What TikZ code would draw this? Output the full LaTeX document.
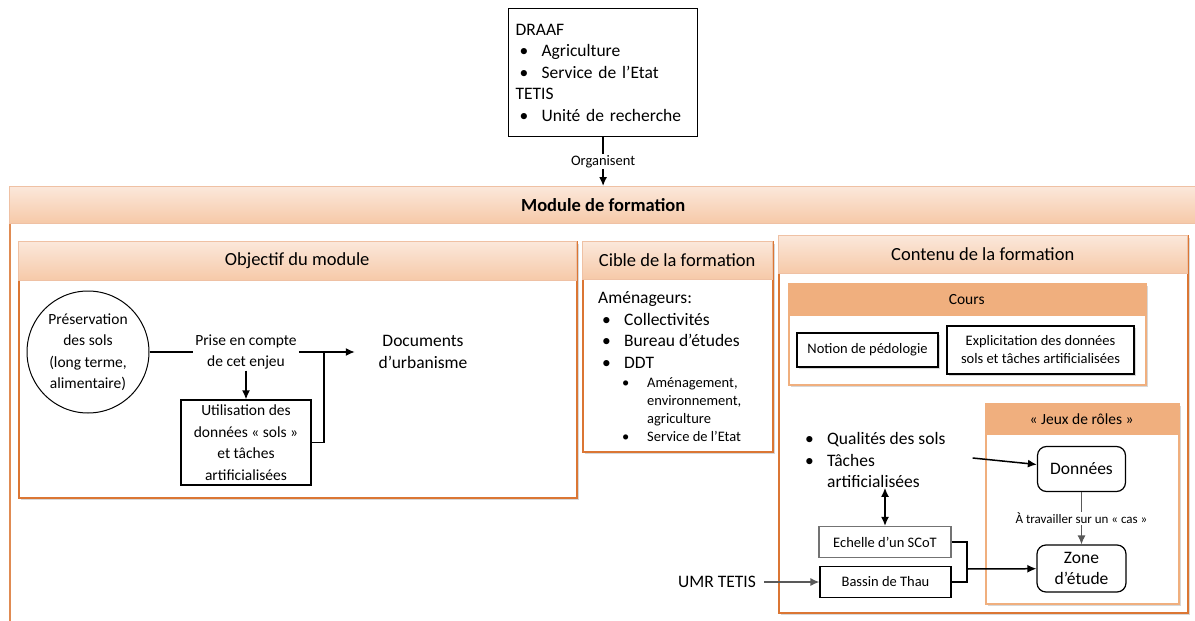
\documentclass[tikz,border=0pt]{standalone}
\usepackage{fontspec}
\setmainfont{Carlito}
\usepackage{tikz}
\usetikzlibrary{shapes, arrows.meta, positioning, shadows}
\definecolor{orangeline}{HTML}{DB7634}
\definecolor{hdtop}{HTML}{FBE8DB}
\definecolor{hdbot}{HTML}{F6C9A8}
\definecolor{hddark}{HTML}{F0AF7E}
\definecolor{linegrey}{HTML}{595959}
\newcommand{\grand}{\fontsize{17.5}{21.5}\selectfont}
\newcommand{\titre}{\fontsize{18.5}{22}\selectfont}
\newcommand{\moyen}{\fontsize{15.5}{21.5}\selectfont}
\newcommand{\petit}{\fontsize{14.5}{18}\selectfont}
\newcommand{\mini}{\fontsize{13}{16}\selectfont}
\newcommand{\puce}{\hspace*{4pt}\makebox[22pt][l]{\textbullet}}
\tikzstyle{panel} = [draw=orangeline, line width=1.6pt, fill=white, anchor=north west, inner sep=0pt, drop shadow={shadow xshift=2.5pt, shadow yshift=-2.5pt, fill=black!30, opacity=0.5}]
\tikzstyle{header} = [draw=orangeline!45, top color=hdtop, bottom color=hdbot, anchor=north west, inner sep=0pt]
\tikzstyle{subheader} = [fill=hddark, anchor=north west, inner sep=0pt]
\tikzstyle{blackbox} = [draw, line width=1.2pt, fill=white, align=center, inner sep=0pt]
\tikzstyle{roundbox} = [blackbox, rounded corners=9pt]
\tikzstyle{trait} = [line width=1.5pt]
\tikzstyle{link} = [line width=1.5pt, -{Latex[length=9pt, width=8pt]}]
\tikzstyle{dlink} = [line width=1.5pt, {Latex[length=9pt, width=8pt]}-{Latex[length=9pt, width=8pt]}]
\tikzstyle{greylink} = [line width=1.3pt, draw=linegrey, -{Latex[length=9pt, width=8pt]}]

\begin{document}
\begin{tikzpicture}[x=1pt, y=-1pt]
	\useasboundingbox (0,0) rectangle (1195,621);
	\clip (0,0) rectangle (1195,621);
	\node [blackbox, align=left, text width=175pt, inner xsep=7pt, minimum height=128pt, anchor=north west, font=\grand] (draaf) at (508,8) {DRAAF\\ \puce Agriculture\\ \puce Service de l'Etat\\ TETIS\\ \puce Unité de recherche};
	
	\node [panel, draw=orangeline!85, minimum width=1188pt, minimum height=460pt] (module) at (9,186) {};
	\node [header, minimum width=1188pt, minimum height=37pt, font=\titre\bfseries] (modhead) at (module.north west) {Module de formation};
	\draw [link] (draaf) -- node [fill=white, font=\petit, inner sep=1pt] {Organisent} (draaf.south |- module.north);
	
	% objectif
	\node [panel, minimum width=558pt, minimum height=256pt] (obj) at (18,241) {};
	\node [header, minimum width=558pt, minimum height=39pt, font=\titre] (objh) at (obj.north west) {Objectif du module};
	\node [circle, draw, line width=1pt, minimum size=122pt, inner sep=0pt, align=center, font=\moyen] (pres) at (88,352) {Préservation\\des sols\\(long terme,\\alimentaire)};
	\node [font=\moyen, align=center, inner xsep=2pt, inner ysep=1pt] (prise) at (246,352) {Prise en compte\\de cet enjeu};
	\node [font=\grand, align=center, minimum width=136pt] (docs) at (423,352) {Documents\\d'urbanisme};
	\node [blackbox, font=\moyen, minimum width=130pt, minimum height=85pt] (util) at (246,442.5) {Utilisation des\\données « sols »\\et tâches\\artificialisées};
	\coordinate (jonction) at (324,352);
	\draw [trait] (pres) -- (prise);
	\draw [link] (prise) -- (docs);
	\draw [link] (prise) -- (util);
	\draw [trait] (util) -| (jonction);
	
	% cible
	\node [panel, minimum width=190pt, minimum height=210pt] (cible) at (582,241) {};
	\node [header, minimum width=190pt, minimum height=38pt, font=\titre] (cibleh) at (cible.north west) {Cible de la formation};
	\node [font=\grand, align=left, anchor=west, inner sep=0pt] (amen) at (598,330) {Aménageurs:\\ \puce Collectivités\\ \puce Bureau d'études\\ \puce DDT};
	\node [font=\petit, align=left, anchor=west, inner sep=0pt] (ddt) at (622,409.5) {\makebox[25pt][l]{\textbullet}Aménagement,\\ \hspace*{25pt}environnement,\\ \hspace*{25pt}agriculture\\ \makebox[25pt][l]{\textbullet}Service de l'Etat};
	
	% contenu
	\node [panel, minimum width=409pt, minimum height=377pt] (contenu) at (778,235) {};
	\node [header, minimum width=409pt, minimum height=38pt, font=\titre] (contenuh) at (contenu.north west) {Contenu de la formation};
	\node [panel, draw=hddark, minimum width=357pt, minimum height=101pt] (cours) at (788,283) {};
	\node [subheader, minimum width=357pt, minimum height=33pt, font=\moyen] (coursh) at (cours.north west) {Cours};
	\node [blackbox, font=\petit, minimum width=141pt, minimum height=34pt, drop shadow={shadow xshift=2pt, shadow yshift=-2pt, fill=black!30, opacity=0.5}] (notion) at (867.5,350) {Notion de pédologie};
	\node [blackbox, font=\petit, minimum width=187pt, minimum height=48pt, drop shadow={shadow xshift=2pt, shadow yshift=-2pt, fill=black!30, opacity=0.5}] (explic) at (1040.5,350) {Explicitation des données\\sols et tâches artificialisées};
	\node [font=\grand, align=left, anchor=west, inner sep=0pt] (qualites) at (805,460) {\makebox[22pt][l]{\textbullet}Qualités des sols\\ \makebox[22pt][l]{\textbullet}Tâches\\ \hspace*{22pt}artificialisées};
	
	\node [panel, draw=hddark, minimum width=193pt, minimum height=200pt] (jeux) at (985,403) {};
	\node [subheader, minimum width=193pt, minimum height=32pt, font=\moyen] (jeuxh) at (jeux.north west) {« Jeux de rôles »};
	\node [roundbox, font=\grand, minimum width=88pt, minimum height=45pt] (donnees) at (1081.5,469) {Données};
	\node [roundbox, font=\grand, minimum width=89pt, minimum height=47pt] (zone) at (1081.5,568.5) {Zone\\d'étude};
	\draw [greylink] (donnees) -- node [fill=white, font=\mini, inner sep=1pt] {À travailler sur un « cas »} (zone);
	\draw [link] ([xshift=27pt, yshift=2pt]qualites.east) -- (donnees);
	
	\node [blackbox, draw=black!55, font=\petit, minimum width=132pt, minimum height=31pt] (echelle) at (885,542) {Echelle d'un SCoT};
	\node [blackbox, font=\petit, minimum width=131pt, minimum height=31pt] (bassin) at (885.5,582) {Bassin de Thau};
	\draw [dlink] (qualites.south -| echelle.north) -- (echelle.north);
	\coordinate (fourche) at (967,569);
	\draw [trait] (echelle) -| (fourche);
	\draw [trait] (bassin) -| (fourche);
	\draw [link] (fourche) -- (zone);
	\node [font=\grand, inner xsep=8pt] (umr) at (717,582) {UMR TETIS};
	\draw [greylink] (umr) -- (bassin);
\end{tikzpicture}
\end{document}
